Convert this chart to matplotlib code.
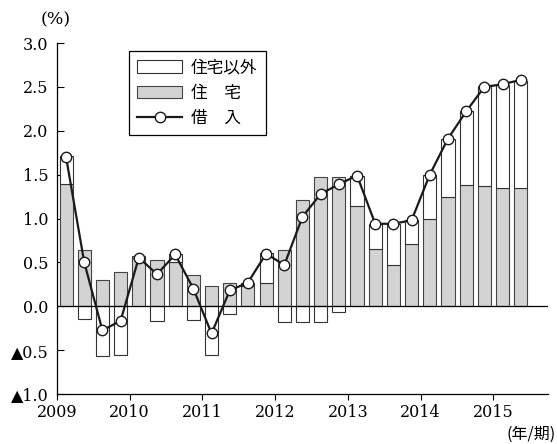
import numpy as np
import matplotlib.pyplot as plt
from matplotlib.patches import Patch
from matplotlib.lines import Line2D

plt.rcParams['font.family'] = ['DejaVu Serif', 'Noto Sans CJK JP', 'DejaVu Sans']

# quarterly data 2009Q1 - 2015Q2 (%)
housing = [1.39, 0.64, 0.30, 0.39, 0.55, 0.53, 0.50, 0.36, 0.23, 0.27, 0.23, 0.27, 0.645,
           1.21, 1.47, 1.47, 1.14, 0.65, 0.47, 0.71, 1.00, 1.25, 1.385, 1.37, 1.35, 1.35]
non_housing = [0.32, -0.15, -0.57, -0.56, 0.02, -0.17, 0.10, -0.16, -0.55, -0.085, 0.04, 0.34, -0.175,
               -0.18, -0.18, -0.07, 0.35, 0.29, 0.47, 0.27, 0.50, 0.66, 0.835, 1.14, 1.17, 1.22]
borrowing = [1.70, 0.50, -0.275, -0.165, 0.555, 0.365, 0.59, 0.20, -0.31, 0.18, 0.27, 0.60, 0.47,
             1.02, 1.28, 1.39, 1.49, 0.94, 0.94, 0.98, 1.50, 1.91, 2.22, 2.50, 2.53, 2.58]
years = ['2009', '2010', '2011', '2012', '2013', '2014', '2015']
ytick_vals = [-1.0, -0.5, 0.0, 0.5, 1.0, 1.5, 2.0, 2.5, 3.0]
ytick_labels = ['▲1.0', '▲0.5', '0.0', '0.5', '1.0', '1.5', '2.0', '2.5', '3.0']

housing = np.array(housing)
non_housing = np.array(non_housing)
x = np.arange(len(housing)) + 0.5

fig = plt.figure(figsize=(5.57, 4.44), dpi=100)
ax = fig.add_axes([0.1023, 0.1126, 0.8815, 0.7905])

gray = '#d3d3d3'
ax.bar(x, housing, width=0.72, color=gray, edgecolor='#444444', linewidth=0.8, zorder=2)
# white part: on top of gray if positive, below zero if negative
bottoms = np.where(non_housing > 0, housing, 0)
ax.bar(x, non_housing, width=0.72, bottom=bottoms, color='white', edgecolor='#333333',
       linewidth=0.8, zorder=2)
ax.axhline(0, color='black', lw=0.9, zorder=3)
ax.plot(x, borrowing, color='#1a1a1a', lw=1.6, marker='o', markersize=7.5,
        markerfacecolor='white', markeredgecolor='#1a1a1a', markeredgewidth=1.0, zorder=4)

ax.set_xlim(0, 27)
ax.set_ylim(-1, 3)
ax.spines['top'].set_visible(False)
ax.spines['right'].set_visible(False)
ax.spines['left'].set_linewidth(0.9)
ax.spines['bottom'].set_linewidth(0.9)

ax.set_yticks(ytick_vals)
ax.set_yticklabels(ytick_labels, fontsize=11.5)
ax.tick_params(axis='y', direction='in', length=5, pad=6)
ax.set_xticks(np.arange(0, 25, 4))
ax.set_xticklabels(years, fontsize=11.5)
ax.tick_params(axis='x', direction='out', length=4, pad=3)

handles = [Patch(facecolor='white', edgecolor='#333333', linewidth=0.8),
           Patch(facecolor=gray, edgecolor='#444444', linewidth=0.8),
           Line2D([0], [0], color='#1a1a1a', lw=1.6, marker='o', markersize=7.5,
                  markerfacecolor='white', markeredgecolor='#1a1a1a')]
leg = ax.legend(handles, ['住宅以外', '住　宅', '借　入'], loc='upper left',
                bbox_to_anchor=(0.147, 0.977), borderaxespad=0, fancybox=False,
                framealpha=1, edgecolor='black', handlelength=2.7,
                handleheight=0.8, labelspacing=0.5, handletextpad=0.5,
                borderpad=0.5, prop={'family': ['Noto Sans CJK JP'], 'size': 12})
leg.get_frame().set_linewidth(0.9)

fig.text(56 / 557, 1 - 20 / 444, '(%)', ha='center', va='center', fontsize=12.5)
fig.text(556 / 557, 1 - 434 / 444, '(年/期)', ha='right', va='center', fontsize=11.5,
         family=['Noto Sans CJK JP', 'DejaVu Serif'])

plt.savefig('out.png', dpi=100)
